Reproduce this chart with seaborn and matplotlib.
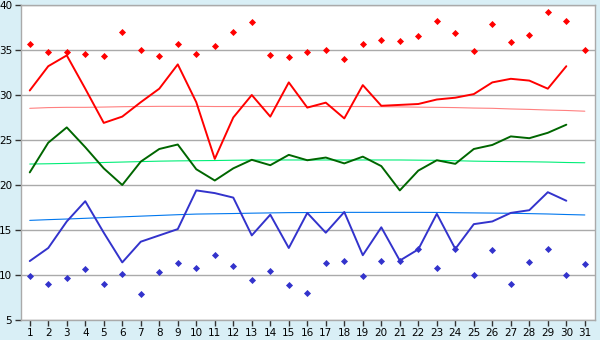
import numpy as np
import pandas as pd
import matplotlib
matplotlib.use("Agg")
import matplotlib.pyplot as plt
import seaborn as sns

days = list(range(1, 32))

max_temp = [30.5, 33.2, 34.4, 30.7, 26.9, 27.6, 29.2, 30.7, 33.4, 29.2,
            22.9, 27.5, 30.0, 27.6, 31.4, 28.6, 29.15, 27.4, 31.1, 28.8,
            28.9, 29.0, 29.5, 29.7, 30.1, 31.4, 31.8, 31.6, 30.7, 33.2, None]
mean_temp = [21.4, 24.7, 26.4, 24.2, 21.85, 20.0, 22.6, 24.0, 24.5, 21.75,
             20.5, 21.85, 22.8, 22.2, 23.35, 22.75, 23.05, 22.4, 23.15, 22.1,
             19.4, 21.6, 22.75, 22.35, 24.0, 24.45, 25.4, 25.2, 25.8, 26.7, None]
min_temp = [11.55, 13.0, 15.95, 18.2, 14.7, 11.4, 13.7, 14.4, 15.1, 19.4,
            19.1, 18.6, 14.4, 16.7, 13.0, 16.9, 14.7, 17.0, 12.2, 15.3,
            11.6, 12.85, 16.8, 12.9, 15.65, 15.95, 16.9, 17.2, 19.2, 18.25, None]
record_max = [35.7, 34.8, 34.8, 34.6, 34.3, 37.0, 35.0, 34.3, 35.7, 34.55,
              35.5, 37.0, 38.1, 34.4, 34.2, 34.75, 35.0, 33.95, 35.7, 36.1,
              36.0, 36.6, 38.2, 36.85, 34.85, 37.9, 35.85, 36.7, 39.2, 38.2, 35.0]
record_min = [9.85, 8.95, 9.65, 10.65, 8.95, 10.1, 7.85, 10.3, 11.3, 10.75,
              12.2, 10.95, 9.5, 10.5, 8.85, 7.95, 11.3, 11.55, 9.85, 11.55,
              11.6, 12.85, 10.75, 12.9, 9.95, 12.75, 9.05, 11.5, 12.85, 9.95, 11.2]
normal_max = [28.52, 28.6, 28.63, 28.63, 28.66, 28.7, 28.72, 28.74, 28.74, 28.74,
              28.72, 28.72, 28.72, 28.72, 28.72, 28.72, 28.72, 28.72, 28.72, 28.7,
              28.68, 28.65, 28.63, 28.6, 28.55, 28.52, 28.45, 28.4, 28.33, 28.28, 28.2]
normal_mean = [22.33, 22.36, 22.4, 22.45, 22.5, 22.55, 22.6, 22.65, 22.68, 22.7,
               22.72, 22.75, 22.77, 22.78, 22.78, 22.78, 22.78, 22.78, 22.78, 22.78,
               22.78, 22.76, 22.74, 22.7, 22.65, 22.62, 22.6, 22.58, 22.55, 22.5, 22.47]
normal_min = [16.07, 16.15, 16.22, 16.3, 16.38, 16.46, 16.54, 16.62, 16.7, 16.77,
              16.8, 16.83, 16.87, 16.9, 16.93, 16.94, 16.95, 16.96, 16.96, 16.96,
              16.96, 16.96, 16.95, 16.92, 16.9, 16.88, 16.86, 16.82, 16.78, 16.72, 16.67]
y_ticks = [5, 10, 15, 20, 25, 30, 35, 40]

df = pd.DataFrame({
    "day": days,
    "max": pd.array(max_temp, dtype="Float64").astype(float),
    "mean": pd.array(mean_temp, dtype="Float64").astype(float),
    "min": pd.array(min_temp, dtype="Float64").astype(float),
    "rmax": record_max, "rmin": record_min,
    "nmax": normal_max, "nmean": normal_mean, "nmin": normal_min,
})

sns.set_style("white")
plt.rcParams['font.family'] = ['DejaVu Sans']

bg = "#d9eff6"
fig = plt.figure(figsize=(6.0, 3.4), dpi=100, facecolor=bg)
ax = fig.add_axes([20.5 / 600, 1 - 320 / 340, 574.5 / 600, 315 / 340])
ax.set_facecolor("white")

for v in y_ticks:
    ax.axhline(v, color="#aaaaaa", lw=1.0, zorder=0)

sns.lineplot(data=df, x="day", y="nmax", color="#ff8080", lw=0.8, ax=ax)
sns.lineplot(data=df, x="day", y="nmean", color="#00ee77", lw=0.8, ax=ax)
sns.lineplot(data=df, x="day", y="nmin", color="#0077ee", lw=0.8, ax=ax)

sns.lineplot(data=df, x="day", y="max", color="#ff0000", lw=1.4, ax=ax)
sns.lineplot(data=df, x="day", y="mean", color="#006600", lw=1.4, ax=ax)
sns.lineplot(data=df, x="day", y="min", color="#3333cc", lw=1.4, ax=ax)

sns.scatterplot(data=df, x="day", y="rmax", color="#ff0000", marker="D", s=13,
                linewidth=0, ax=ax, zorder=5)
sns.scatterplot(data=df, x="day", y="rmin", color="#3333cc", marker="D", s=13,
                linewidth=0, ax=ax, zorder=5)

ax.set_xlim(0.5, 31.55)
ax.set_ylim(5, 40)
ax.set_xticks(days)
ax.set_yticks(y_ticks)
ax.set_xlabel("")
ax.set_ylabel("")
ax.tick_params(axis="both", which="major", labelsize=7.5, length=4, width=1,
               color="#333333", pad=2, labelcolor="#000000", direction="out")
ax.tick_params(left=True, bottom=True)
for s in ax.spines.values():
    s.set_color("#aaaaaa")
    s.set_linewidth(1.0)

fig.savefig("out.png", dpi=100, facecolor=bg)
